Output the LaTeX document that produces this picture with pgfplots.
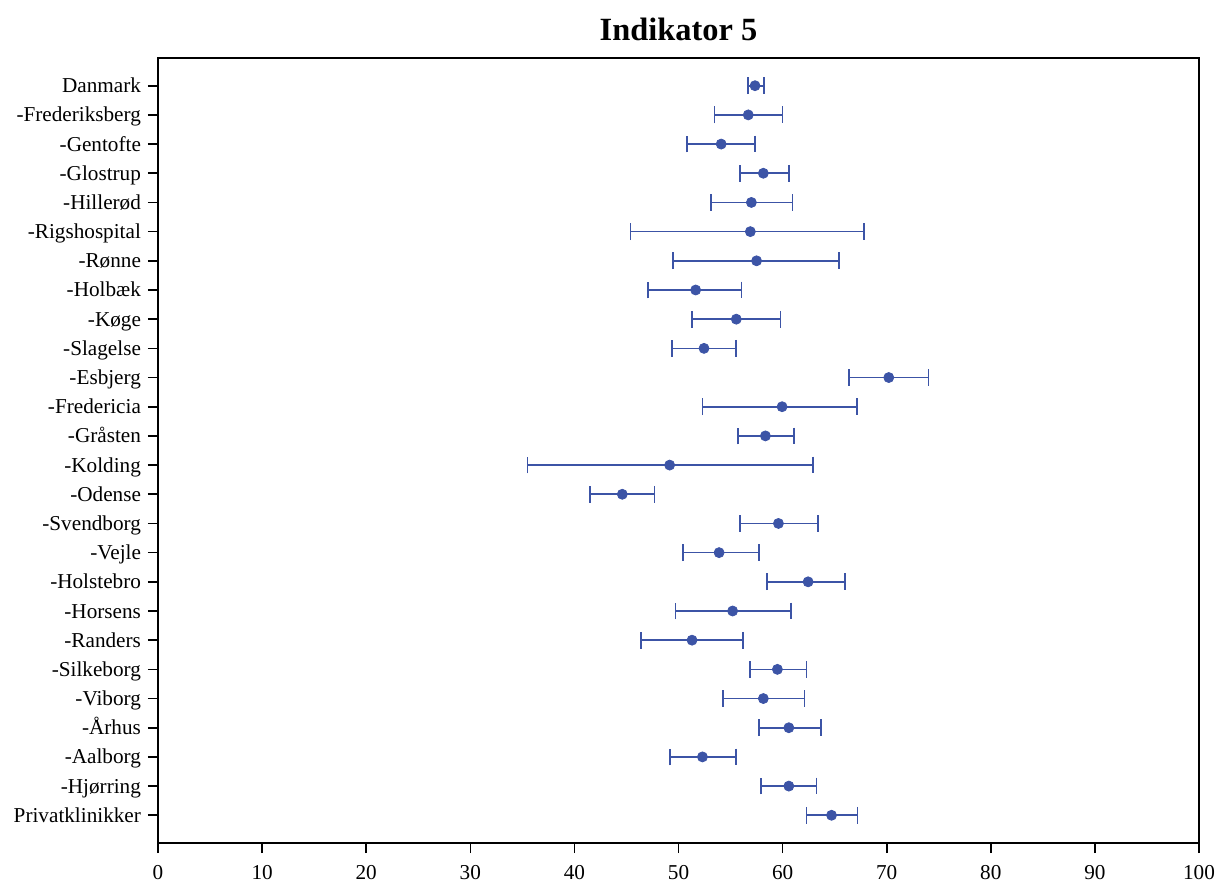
\documentclass[border=0pt]{standalone}
\usepackage{fontspec}
\setmainfont{Liberation Serif}
\usepackage{pgfplots}
\usepackage{pgfplotstable}
\pgfplotsset{compat=1.18}
\definecolor{dotblue}{RGB}{60,84,166}
\pgfplotstableread{
i v ep em
26 57.35 0.85 0.65
25 56.7 3.3 3.25
24 54.1 3.25 3.3
23 58.15 2.45 2.25
22 57.0 3.95 3.9
21 56.9 10.9 11.5
20 57.5 7.9 8.0
19 51.65 4.4 4.55
18 55.55 4.25 4.25
17 52.45 3.1 3.1
16 70.2 3.8 3.8
15 59.95 7.2 7.65
14 58.35 2.75 2.65
13 49.15 13.75 13.65
12 44.6 3.1 3.1
11 59.6 3.8 3.7
10 53.9 3.8 3.5
9 62.45 3.55 3.95
8 55.2 5.6 5.5
7 51.3 4.9 4.9
6 59.5 2.8 2.6
5 58.15 3.95 3.85
4 60.6 3.1 2.9
3 52.3 3.25 3.1
2 60.6 2.65 2.7
1 64.7 2.5 2.4
}\datatable
\begin{document}
\begin{tikzpicture}
\begin{axis}[
  scale only axis,
  width=520.5pt, height=392.5pt,
  xmin=0, xmax=100, ymin=0.05, ymax=26.95,
  xtick={0,10,...,100},
  ytick={1,...,26},
  yticklabels={Privatklinikker,-Hjørring,-Aalborg,-Århus,-Viborg,-Silkeborg,-Randers,-Horsens,-Holstebro,-Vejle,-Svendborg,-Odense,-Kolding,-Gråsten,-Fredericia,-Esbjerg,-Slagelse,-Køge,-Holbæk,-Rønne,-Rigshospital,-Hillerød,-Glostrup,-Gentofte,-Frederiksberg,Danmark},
  xtick pos=bottom, ytick pos=left,
  tick align=outside,
  major tick length=5pt,
  axis line style={line width=0.8pt},
  every tick/.style={black, line width=0.8pt},
  tick label style={font=\fontsize{10.6}{12}\selectfont},
  xticklabel style={yshift=-2.5pt},
  yticklabel style={text height=7pt, text depth=0pt},
  /pgf/number format/assume math mode=true,
  title={Indikator 5},
  title style={font=\bfseries\fontsize{16.2}{18}\selectfont, yshift=-1pt},
  clip=false,
]
\addplot[only marks, mark=*, mark size=2.5pt, color=dotblue,
  error bars/.cd, x dir=both, x explicit,
  error bar style={line width=0.85pt, dotblue},
  error mark options={line width=0.85pt, mark size=4.2pt, rotate=90, dotblue}]
  table[x=v, y=i, x error plus=ep, x error minus=em] {\datatable};
\end{axis}
\pgfresetboundingbox
\path ([shift={(-79pt,-20pt)}]current axis.south west) rectangle ([shift={(10pt,29pt)}]current axis.north east);
\end{tikzpicture}
\end{document}
